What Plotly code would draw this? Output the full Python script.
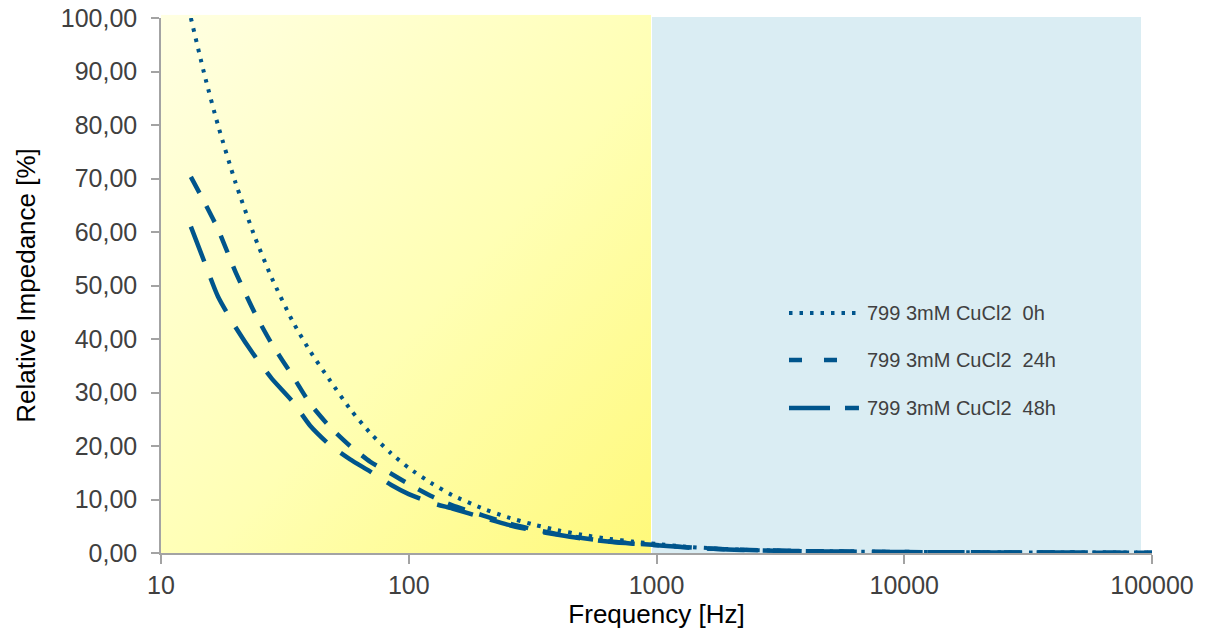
import base64
import math
import plotly.graph_objects as go

# Measurement frequencies [Hz]
freq_hz = [13.2, 15, 17, 20, 24, 28, 34, 40, 48, 58, 70, 85, 100, 125, 150, 200, 250,
           320, 400, 500, 650, 800, 1000, 1300, 1700, 2200, 3000, 4000, 5500, 7500,
           10000, 15000, 20000, 30000, 45000, 65000, 100000]

# Relative impedance [%] for each exposure time
imp_0h = [100.0, 89.3, 79.9, 69.2, 58.9, 51.4, 43.3, 37.7, 32.3, 26.9, 22.4, 18.6, 15.9,
          12.9, 10.8, 8.27, 6.70, 5.30, 4.26, 3.41, 2.62, 2.13, 1.70, 1.20, 0.85, 0.62,
          0.46, 0.36, 0.29, 0.23, 0.19, 0.15, 0.13, 0.11, 0.09, 0.08, 0.07]
imp_24h = [70.3, 65.5, 60.5, 52.5, 44.7, 39.1, 33.1, 27.9, 23.6, 20.0, 17.05, 14.8, 12.9,
           10.5, 8.9, 7.0, 5.6, 4.4, 3.5, 2.8, 2.15, 1.8, 1.5, 1.1, 0.8, 0.6, 0.45, 0.35,
           0.28, 0.22, 0.18, 0.14, 0.12, 0.10, 0.08, 0.07, 0.06]
imp_48h = [61.0, 54.3, 47.9, 42.2, 36.7, 32.6, 28.3, 23.8, 20.2, 17.5, 15.2, 12.7, 11.0,
           9.3, 8.3, 6.6, 5.3, 4.2, 3.4, 2.7, 2.1, 1.75, 1.45, 1.05, 0.78, 0.58, 0.44,
           0.34, 0.27, 0.21, 0.17, 0.13, 0.11, 0.09, 0.075, 0.065, 0.055]

series_names = ["799 3mM CuCl2\u00a0\u00a00h", "799 3mM CuCl2\u00a0\u00a024h", "799 3mM CuCl2\u00a0\u00a048h"]
series_values = [imp_0h, imp_24h, imp_48h]
series_dash = ["3.5px,7px", "18px,15px", "37px,18px"]
series_width = [4, 4.5, 4.5]
legend_dash = ["3.5px,7px", "13px,22px", "41px,15px,14px,40px"]

x_tickvals = [10, 100, 1000, 10000, 100000]
x_ticktext = ["10", "100", "1000", "10000", "100000"]

# Frequency bands shaded behind the curves
low_band = (10, 951)
high_band = (959, 90300)

LINE_COLOR = "#00558C"
AXIS_COLOR = "#A3A3A3"
FONT = "Liberation Sans, Arial, sans-serif"

X_LOG_MIN, X_LOG_MAX = 1, 5


def to_paper(f):
    return (math.log10(f) - X_LOG_MIN) / (X_LOG_MAX - X_LOG_MIN)


fig = go.Figure()
for name, vals, dash, w in zip(series_names, series_values, series_dash, series_width):
    fig.add_trace(go.Scatter(
        x=freq_hz, y=vals, mode="lines", name=name, showlegend=False,
        line=dict(color=LINE_COLOR, width=w, dash=dash, shape="spline", smoothing=0.6),
    ))

# Diagonal yellow gradient for the low-frequency band
svg = ('<svg xmlns="http://www.w3.org/2000/svg" width="200" height="200" preserveAspectRatio="none">'
       '<defs><linearGradient id="g" x1="0" y1="0" x2="1" y2="1">'
       '<stop offset="0" stop-color="#FFFFE2"/><stop offset="0.55" stop-color="#FFFFB4"/>'
       '<stop offset="1" stop-color="#FFF97A"/></linearGradient></defs>'
       '<rect width="200" height="200" fill="url(#g)"/></svg>')
svg_uri = "data:image/svg+xml;base64," + base64.b64encode(svg.encode()).decode()

fig.add_layout_image(dict(
    source=svg_uri, xref="paper", yref="paper",
    x=to_paper(low_band[0]), y=1.006,
    sizex=to_paper(low_band[1]) - to_paper(low_band[0]), sizey=1.006,
    xanchor="left", yanchor="top", sizing="stretch", layer="below",
))

shapes = [dict(
    type="rect", xref="paper", yref="paper",
    x0=to_paper(high_band[0]), x1=to_paper(high_band[1]), y0=0, y1=1.002,
    fillcolor="#DAEDF3", line=dict(width=0), layer="below",
)]

# Legend drawn inside the plot area
legend_rows_y = [0.4486, 0.3607, 0.2710]
annotations = []
for name, dash, w, ly in zip(series_names, legend_dash, series_width, legend_rows_y):
    shapes.append(dict(
        type="line", xref="paper", yref="paper", x0=0.6337, x1=0.7043, y0=ly, y1=ly,
        line=dict(color=LINE_COLOR, width=w, dash=dash),
    ))
    annotations.append(dict(
        text=name, xref="paper", yref="paper", x=0.7104, y=ly,
        xanchor="left", yanchor="middle", showarrow=False,
        font=dict(family=FONT, size=20, color="#404040"),
    ))

fig.update_layout(
    width=1212, height=631,
    margin=dict(l=161, r=60, t=18, b=78),
    paper_bgcolor="white", plot_bgcolor="white",
    separators=",.",
    shapes=shapes, annotations=annotations,
    font=dict(family=FONT),
    xaxis=dict(
        type="log", range=[X_LOG_MIN, X_LOG_MAX], automargin=False,
        tickvals=x_tickvals, ticktext=x_ticktext,
        showgrid=False, zeroline=False,
        showline=True, linecolor=AXIS_COLOR, linewidth=1.5,
        ticks="outside", ticklen=9, tickwidth=1.5, tickcolor=AXIS_COLOR,
        tickfont=dict(family=FONT, size=25, color="#404040"),
        ticklabelstandoff=0,
        title=dict(text="Frequency [Hz]", font=dict(family=FONT, size=26, color="black"), standoff=0),
    ),
    yaxis=dict(
        range=[0, 100], dtick=10, tickformat=".2f", automargin=False,
        showgrid=False, zeroline=False,
        showline=True, linecolor=AXIS_COLOR, linewidth=1.5,
        ticks="outside", ticklen=8, tickwidth=1.5, tickcolor=AXIS_COLOR,
        tickfont=dict(family=FONT, size=25, color="#404040"),
        ticklabelstandoff=9,
        title=dict(text="Relative Impedance [%]", font=dict(family=FONT, size=26, color="black"), standoff=18),
    ),
)

fig.write_html("out.html")
